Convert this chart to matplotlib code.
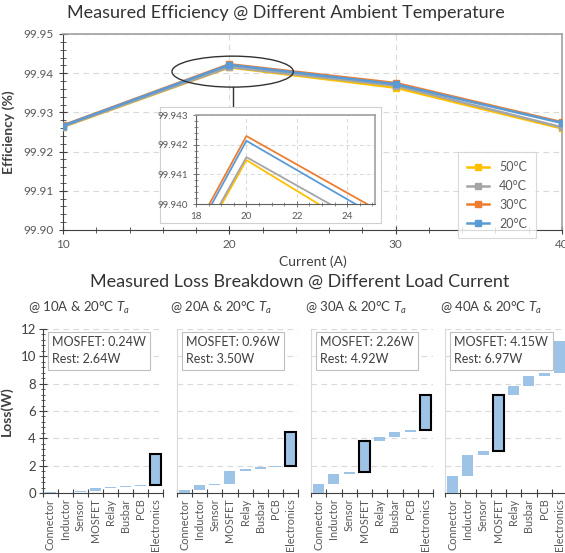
import numpy as np
import matplotlib
matplotlib.use('Agg')
import matplotlib.pyplot as plt
from matplotlib.patches import Ellipse
from matplotlib.ticker import MultipleLocator, FormatStrFormatter

plt.rcParams['font.family'] = ['Lato', 'DejaVu Sans']
plt.rcParams['mathtext.fontset'] = 'custom'
plt.rcParams['mathtext.it'] = 'Lato:italic'
plt.rcParams['mathtext.rm'] = 'Lato'

# Efficiency vs load current, one series per ambient temperature
currents = [10, 20, 30, 40]
temps = ['50°C', '40°C', '30°C', '20°C']
eff_50C = [99.9263, 99.94148, 99.9363, 99.9259]
eff_40C = [99.9264, 99.94158, 99.9368, 99.9262]
eff_30C = [99.9267, 99.94229, 99.9375, 99.9275]
eff_20C = [99.9266, 99.94213, 99.9372, 99.9273]
temp_colors = ['#FFC000', '#A5A5A5', '#ED7D31', '#5B9BD5']

# Loss breakdown (W) at each load current
categories = ['Connector', 'Inductor', 'Sensor', 'MOSFET', 'Relay', 'Busbar', 'PCB', 'Electronics']
loss_10A = [0.04, 0.05, 0.06, 0.24, 0.06, 0.06, 0.05, 2.32]
loss_20A = [0.22, 0.38, 0.08, 0.96, 0.15, 0.12, 0.06, 2.49]
loss_30A = [0.65, 0.75, 0.15, 2.26, 0.30, 0.38, 0.12, 2.57]
loss_40A = [1.25, 1.55, 0.25, 4.15, 0.60, 0.75, 0.20, 2.37]
panel_titles = ['@ 10A & 20°C $T_a$', '@ 20A & 20°C $T_a$',
                '@ 30A & 20°C $T_a$', '@ 40A & 20°C $T_a$']
highlighted = [['Electronics'], ['Electronics'], ['MOSFET', 'Electronics'], ['MOSFET']]

W, H = 565, 553
TXT = '#404040'
TICK = '#595959'
GRID = '#d9d9d9'


def box(l, t, r, b):
    return [l / W, 1 - b / H, (r - l) / W, (b - t) / H]


fig = plt.figure(figsize=(W / 100, H / 100), dpi=100)

# ---------------- efficiency chart ----------------
ax = fig.add_axes(box(63, 34, 562, 230))
series = [eff_50C, eff_40C, eff_30C, eff_20C]
for name, vals, col in zip(temps, series, temp_colors):
    ax.plot(currents, vals, color=col, lw=1.8, marker='s', markersize=4, label=name, zorder=3)
ax.set_xlim(10, 40)
ax.set_ylim(99.90, 99.95)
ax.xaxis.set_major_locator(MultipleLocator(10))
ax.xaxis.set_minor_locator(MultipleLocator(2))
ax.yaxis.set_major_locator(MultipleLocator(0.01))
ax.yaxis.set_minor_locator(MultipleLocator(0.002))
ax.yaxis.set_major_formatter(FormatStrFormatter('%.2f'))
ax.grid(True, which='major', ls=(0, (5, 4)), color=GRID, lw=0.8)
ax.tick_params(which='major', direction='inout', length=6, width=0.8, colors='#404040',
               labelcolor=TICK, labelsize=8.5)
ax.tick_params(which='minor', direction='inout', length=4, width=0.6, colors='#404040')
for s in ['left', 'bottom']:
    ax.spines[s].set_color('#404040')
for s in ['top', 'right']:
    ax.spines[s].set_color('#a0a0a0')
    ax.spines[s].set_linewidth(1.2)
ax.set_xlabel('Current (A)', fontsize=10, color=TXT, labelpad=4)
ax.set_ylabel('Efficiency (%)', fontsize=10, color=TXT, fontweight='bold', labelpad=6)
fig.text(286 / W, 1 - 13 / H, 'Measured Efficiency @ Different Ambient Temperature',
         fontsize=13, color='#333333', ha='center', va='center')

# zoom marker around the 20 A peak
ax.add_patch(Ellipse((20.2, 99.9404), 7.3, 0.0079, fill=False, ec='#333333', lw=1.0, zorder=4))
ax.plot([20.2, 20.2], [99.9365, 99.9312], color='#333333', lw=1.0, zorder=4)

leg = ax.legend(loc='upper right', bbox_to_anchor=(542 / W, 1 - 146 / H),
                bbox_transform=fig.transFigure, frameon=True, fontsize=9,
                handlelength=1.8, labelspacing=0.55, borderpad=0.7, fancybox=False)
leg.get_frame().set_edgecolor('#d0d0d0')
leg.get_frame().set_linewidth(0.8)
for t in leg.get_texts():
    t.set_color(TICK)

# inset frame and inset axes
frame = fig.add_axes(box(160, 107, 381, 223))
frame.set_xticks([])
frame.set_yticks([])
for s in frame.spines.values():
    s.set_color('#d0d0d0')
    s.set_linewidth(0.8)

axi = fig.add_axes(box(196, 115, 375, 204))
for vals, col in zip(series, temp_colors):
    axi.plot(currents, vals, color=col, lw=1.3)
axi.set_xlim(18, 25.1)
axi.set_ylim(99.940, 99.943)
axi.xaxis.set_major_locator(MultipleLocator(2))
axi.xaxis.set_minor_locator(MultipleLocator(0.5))
axi.yaxis.set_major_locator(MultipleLocator(0.001))
axi.yaxis.set_minor_locator(MultipleLocator(0.0002))
axi.yaxis.set_major_formatter(FormatStrFormatter('%.3f'))
axi.grid(True, which='major', ls=(0, (4, 3)), color=GRID, lw=0.7)
axi.tick_params(which='major', direction='inout', length=4, width=0.6, colors='#606060',
                labelcolor=TICK, labelsize=7)
axi.tick_params(which='minor', direction='inout', length=2.5, width=0.5, colors='#606060')
for s in ['left', 'bottom']:
    axi.spines[s].set_color('#606060')
for s in ['top', 'right']:
    axi.spines[s].set_color('#a0a0a0')
    axi.spines[s].set_linewidth(1.2)

# ---------------- loss breakdown waterfalls ----------------
fig.text(300 / W, 1 - 282 / H, 'Measured Loss Breakdown @ Different Load Current',
         fontsize=13, color='#333333', ha='center', va='center')

panel_x = [(43, 163), (177, 298), (311, 433), (445, 567)]
title_x = [28, 170, 305, 440]
losses = [loss_10A, loss_20A, loss_30A, loss_40A]
x = np.arange(len(categories))

for i, ((l, r), vals, title, hl) in enumerate(zip(panel_x, losses, panel_titles, highlighted)):
    axp = fig.add_axes(box(l, 329, r, 493))
    vals = np.array(vals)
    bottoms = np.concatenate([[0], np.cumsum(vals)[:-1]])
    edges = ['black' if c in hl else 'none' for c in categories]
    widths = [1.5 if c in hl else 0 for c in categories]
    axp.bar(x, vals, bottom=bottoms, width=0.72, color='#9DC3E6',
            edgecolor=edges, linewidth=widths, zorder=3)
    axp.set_xlim(-0.5, len(categories) - 0.5)
    axp.set_ylim(0, 12)
    axp.set_yticks(np.arange(0, 13, 2))
    axp.grid(True, axis='y', ls=(0, (5, 4)), color=GRID, lw=0.8)
    axp.set_xticks(x)
    axp.set_xticklabels(categories, rotation=90, fontsize=7.8, color=TICK)
    axp.set_xticks(np.arange(-0.5, len(categories)), minor=True)
    axp.tick_params(axis='x', which='major', length=0, pad=4)
    axp.tick_params(axis='x', which='minor', direction='inout', length=6, width=0.8,
                    color='#404040')
    axp.spines['top'].set_visible(False)
    axp.spines['right'].set_visible(False)
    axp.spines['bottom'].set_color('#404040')
    if i == 0:
        axp.yaxis.set_minor_locator(MultipleLocator(0.4))
        axp.tick_params(axis='y', which='major', direction='inout', length=6, width=0.8,
                        color='#404040', labelsize=9.5, labelcolor=TXT, pad=2)
        axp.tick_params(axis='y', which='minor', direction='inout', length=3, width=0.6,
                        color='#404040')
        axp.spines['left'].set_color('#404040')
        axp.set_ylabel('Loss(W)', fontsize=10, color=TXT, fontweight='bold')
        axp.yaxis.set_label_coords(-0.255, 0.5)
    else:
        axp.tick_params(axis='y', which='both', length=0, labelleft=False)
        axp.spines['left'].set_color('#d9d9d9')
    mosfet = vals[categories.index('MOSFET')]
    rest = vals.sum() - mosfet
    axp.text(0.075, 0.955, f'MOSFET: {mosfet:.2f}W\nRest: {rest:.2f}W', transform=axp.transAxes,
             fontsize=9, color=TXT, va='top', ha='left', linespacing=1.5, zorder=5,
             bbox=dict(boxstyle='square,pad=0.35', fc='white', ec='#bfbfbf', lw=0.8))
    fig.text(title_x[i] / W, 1 - 308 / H, title, fontsize=9.5, color=TXT, ha='left', va='center')

fig.savefig('out.png', dpi=100)
